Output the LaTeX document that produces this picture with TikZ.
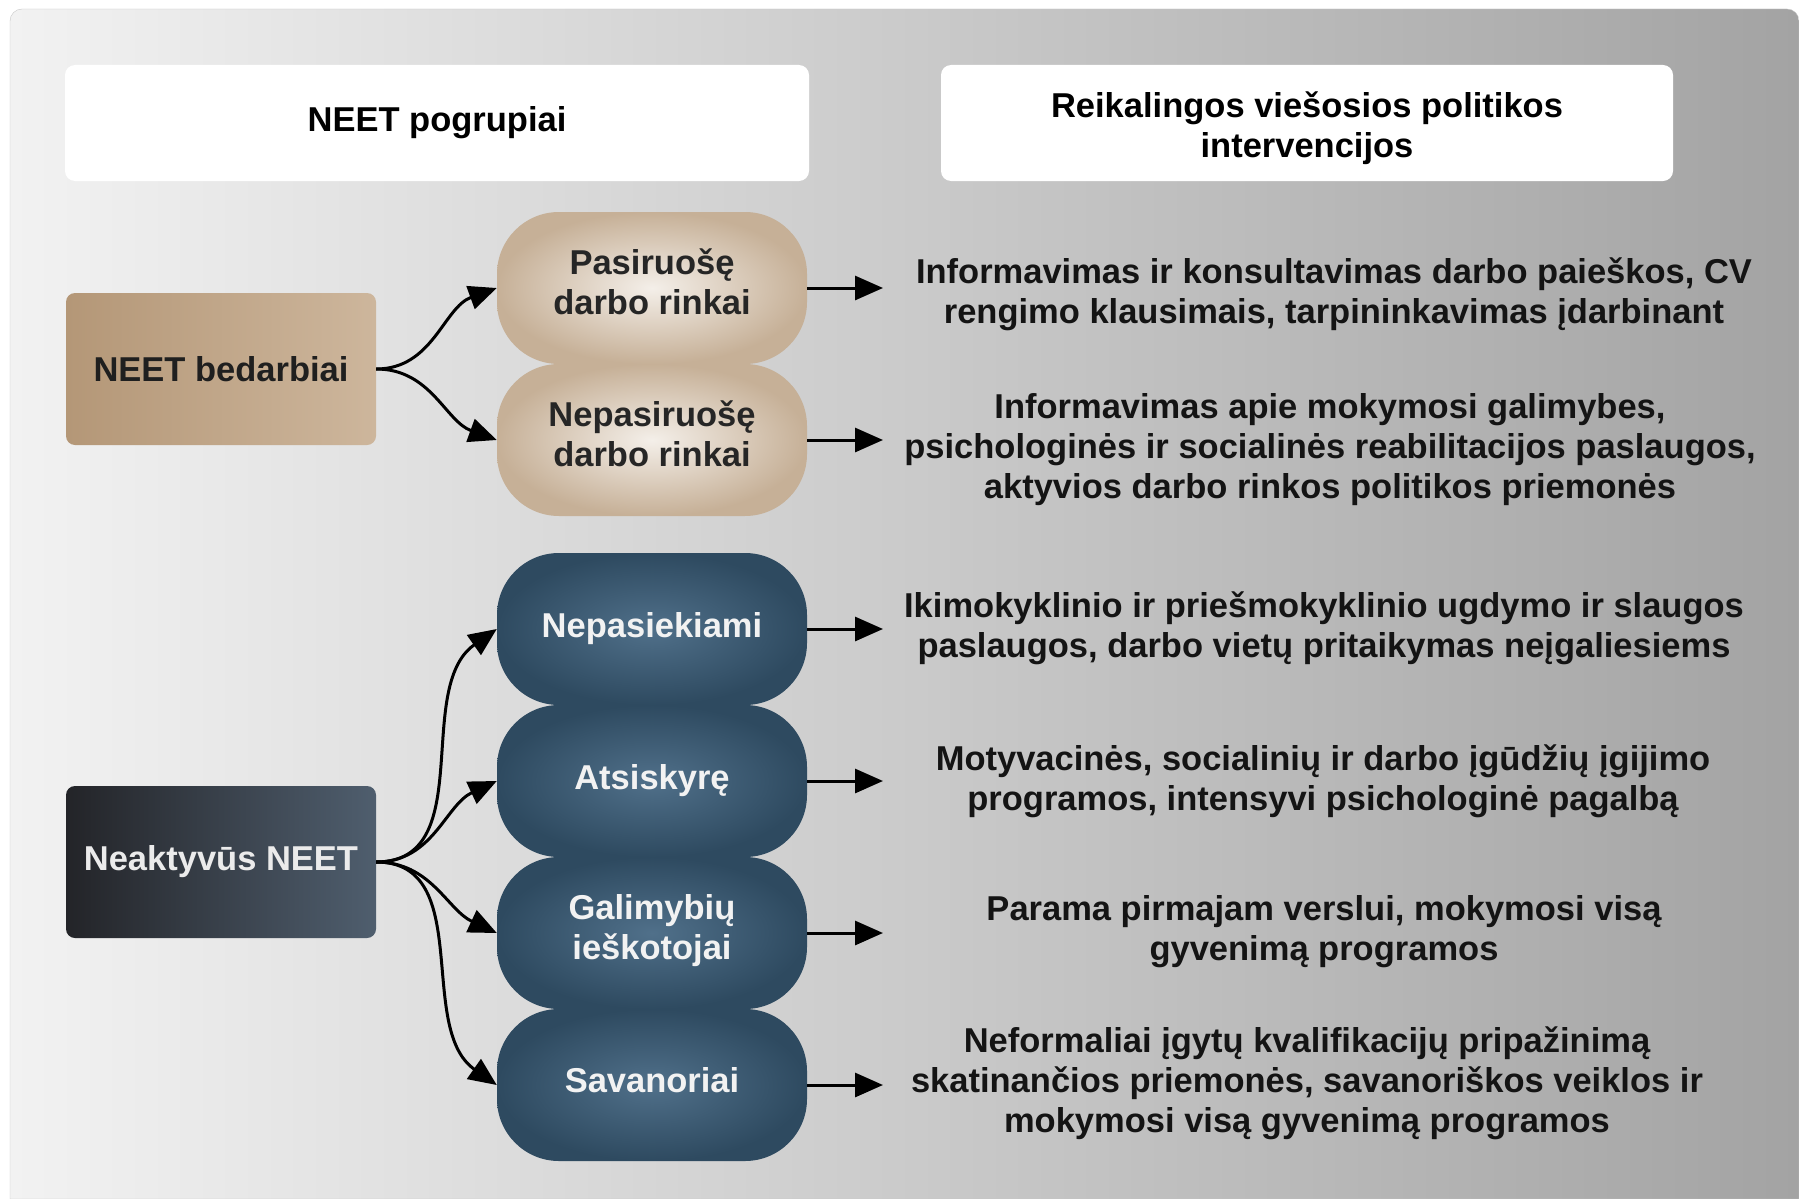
\documentclass[tikz,border=0pt]{standalone}
\usepackage{fontspec}
\setmainfont{Liberation Sans}
\usetikzlibrary{arrows.meta}

\definecolor{fundoEsq}{HTML}{F2F2F2}
\definecolor{fundoDir}{HTML}{A3A3A3}
\definecolor{tanBoxL}{HTML}{B49777}
\definecolor{tanBoxR}{HTML}{CDB69C}
\definecolor{darkBoxL}{HTML}{232428}
\definecolor{darkBoxR}{HTML}{4F5E6E}
\definecolor{tanIn}{HTML}{F4EFE9}
\definecolor{tanOut}{HTML}{C6B097}
\definecolor{darkIn}{HTML}{50708A}
\definecolor{darkOut}{HTML}{2E4A60}

\begin{document}
\begin{tikzpicture}[
        x=1pt, y=-1pt,
        every node/.style={font=\bfseries\fontsize{34.5}{40}\selectfont, align=center, inner sep=0pt},
        headBox/.style={rectangle, rounded corners=10pt, fill=white, minimum height=116pt},
        boxTan/.style={rectangle, rounded corners=9pt, left color=tanBoxL, right color=tanBoxR, minimum width=310pt, minimum height=152pt, text=black!88},
        boxDark/.style={rectangle, rounded corners=9pt, left color=darkBoxL, right color=darkBoxR, minimum width=310pt, minimum height=152pt, text=white!92!black},
        nodeTan/.style={rectangle, rounded corners=62pt, inner color=tanIn, outer color=tanOut, minimum width=310pt, minimum height=152pt, text=black!85, text depth=12pt},
        nodeDark/.style={rectangle, rounded corners=62pt, inner color=darkIn, outer color=darkOut, minimum width=310pt, minimum height=152pt, text=white!95!black},
        textPol/.style={text=black!92},
        arrowBlack/.style={-{Triangle[length=28pt, width=24pt]}, line width=3pt, black}
    ]
    \useasboundingbox (0,0) rectangle (1799,1199);

    % fundo
    \path [draw=gray!45, left color=fundoEsq, right color=fundoDir]
        (10,1199) [rounded corners=12pt] -- (10,9) -- (1799,9) [sharp corners] -- (1799,1199) -- cycle;

    % cabecalhos
    \node [headBox, minimum width=744pt] (hSub) at (437,123) {NEET pogrupiai};
    \node [headBox, minimum width=732pt] (hPol) at (1307,123) {};
    \node (hPolTxt) at (1307,128) {Reikalingos viešosios politikos\\intervencijos};

    % grupos
    \node [boxTan] (bedarb) at (221,369) {NEET bedarbiai};
    \node [boxDark] (neakt) at (221,862) {Neaktyvūs NEET};

    % pogrupiai
    \node [nodeDark, text depth=10pt] (savan) at (652,1085) {Savanoriai};
    \node [nodeDark, text depth=12pt] (galim) at (652,933) {Galimybių\\ieškotojai};
    \node [nodeDark] (atsis) at (652,781) {Atsiskyrę};
    \node [nodeDark] (nepas) at (652,629) {Nepasiekiami};
    \node [nodeTan] (nepasir) at (652,440) {Nepasiruošę\\darbo rinkai};
    \node [nodeTan] (pasir) at (652,288) {Pasiruošę\\darbo rinkai};

    % intervencijos
    \node [textPol] (polPasir) at (1334,294) {Informavimas ir konsultavimas darbo paieškos, CV\\rengimo klausimais, tarpininkavimas įdarbinant};
    \node [textPol] (polNepasir) at (1330,450) {Informavimas apie mokymosi galimybes,\\psichologinės ir socialinės reabilitacijos paslaugos,\\aktyvios darbo rinkos politikos priemonės};
    \node [textPol] (polNepas) at (1324,628) {Ikimokyklinio ir priešmokyklinio ugdymo ir slaugos\\paslaugos, darbo vietų pritaikymas neįgaliesiems};
    \node [textPol] (polAtsis) at (1323,781) {Motyvacinės, socialinių ir darbo įgūdžių įgijimo\\programos, intensyvi psichologinė pagalbą};
    \node [textPol] (polGalim) at (1324,932) {Parama pirmajam verslui, mokymosi visą\\gyvenimą programos};
    \node [textPol] (polSavan) at (1307,1083) {Neformaliai įgytų kvalifikacijų pripažinimą\\skatinančios priemonės, savanoriškos veiklos ir\\mokymosi visą gyvenimą programos};

    \coordinate (tPasir) at (883,288);
    \coordinate (tNepasir) at (883,440);
    \coordinate (tNepas) at (883,629);
    \coordinate (tAtsis) at (883,781);
    \coordinate (tGalim) at (883,933);
    \coordinate (tSavan) at (883,1085);

    \draw [arrowBlack] (bedarb.east) to[out=0, in=200] (pasir.west);
    \draw [arrowBlack] (bedarb.east) to[out=0, in=160] (nepasir.west);
    \draw [arrowBlack] (neakt.east) to[out=0, in=215] (nepas.west);
    \draw [arrowBlack] (neakt.east) to[out=0, in=205] (atsis.west);
    \draw [arrowBlack] (neakt.east) to[out=0, in=155] (galim.west);
    \draw [arrowBlack] (neakt.east) to[out=0, in=145] (savan.west);

    \draw [arrowBlack] (pasir.east) -- (tPasir);
    \draw [arrowBlack] (nepasir.east) -- (tNepasir);
    \draw [arrowBlack] (nepas.east) -- (tNepas);
    \draw [arrowBlack] (atsis.east) -- (tAtsis);
    \draw [arrowBlack] (galim.east) -- (tGalim);
    \draw [arrowBlack] (savan.east) -- (tSavan);
\end{tikzpicture}
\end{document}
